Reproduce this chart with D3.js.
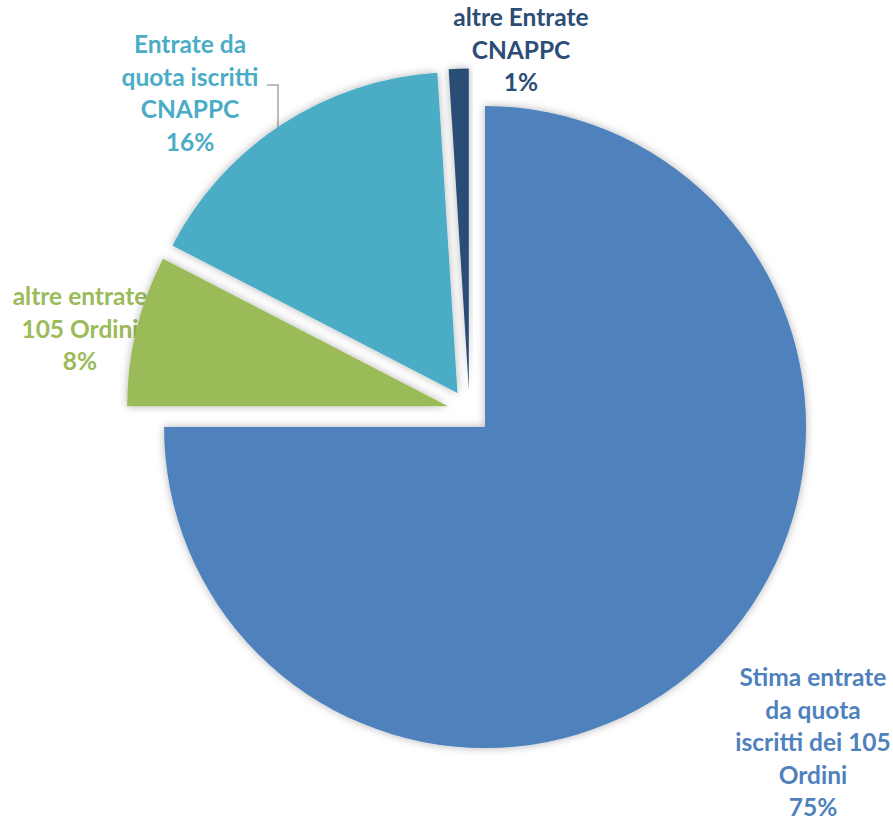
<!DOCTYPE html>
<html><head><meta charset="utf-8">
<script src="https://cdn.jsdelivr.net/npm/d3@7"></script>
<style>body{margin:0;background:#fff}svg{display:block}</style>
</head><body>
<svg id="c" width="893" height="821"></svg>
<script>
const categories = ["Stima entrate da quota iscritti dei 105 Ordini", "altre entrate 105 Ordini", "Entrate da quota iscritti CNAPPC", "altre Entrate CNAPPC"];
const values = [75.0, 7.6, 16.4, 1.0];
const labelLines = [
  ["Stima entrate", "da quota", "iscritti dei 105", "Ordini"],
  ["altre entrate", "105 Ordini"],
  ["Entrate da", "quota iscritti", "CNAPPC"],
  ["altre Entrate", "CNAPPC"]
];
const colors = ["#4F81BD", "#9BBB59", "#4BACC6", "#2C4D75"];
const labelPos = [[813, 686], [80, 305], [190, 53], [521, 26]];

const svg = d3.select("#c");
const cx = 469.5, cy = 411.5, r = 321, explode = 22;
const total = d3.sum(values);
const pie = d3.pie().sort(null).value(d => d)(values);
const arc = d3.arc().innerRadius(0).outerRadius(r);

const defs = svg.append("defs");
const f = defs.append("filter").attr("id","sh").attr("x","-20%").attr("y","-20%").attr("width","140%").attr("height","140%");
f.append("feDropShadow").attr("dx",0).attr("dy",0).attr("stdDeviation",4).attr("flood-color","#000").attr("flood-opacity",0.3);

// labels (under slices)
const lh = 32.5;
const lg = svg.append("g").attr("font-family","Lato, 'Open Sans', sans-serif").attr("font-weight","bold").attr("font-size",24.5).attr("text-anchor","middle");
labelLines.forEach((lines, i) => {
  const t = lg.append("text").attr("fill", colors[i]);
  const all = lines.concat([Math.round(values[i] / total * 100) + "%"]);
  all.forEach((s, k) => t.append("tspan").attr("x", labelPos[i][0]).attr("y", labelPos[i][1] + k * lh).text(s));
});

// leader line for CNAPPC quota label
svg.append("path").attr("d", d3.line()([[267, 85], [278, 85], [278, 128]]))
  .attr("fill","none").attr("stroke","#A6A6A6").attr("stroke-width",1.5);

const g = svg.append("g").attr("transform", `translate(${cx},${cy})`);
g.selectAll("path.s").data(pie).join("path").attr("class","s")
  .attr("d", arc)
  .attr("fill", (d, i) => colors[i])
  .attr("filter","url(#sh)")
  .attr("transform", d => {
    const a = (d.startAngle + d.endAngle) / 2;
    return `translate(${explode * Math.sin(a)},${-explode * Math.cos(a)})`;
  });
</script>
</body></html>
